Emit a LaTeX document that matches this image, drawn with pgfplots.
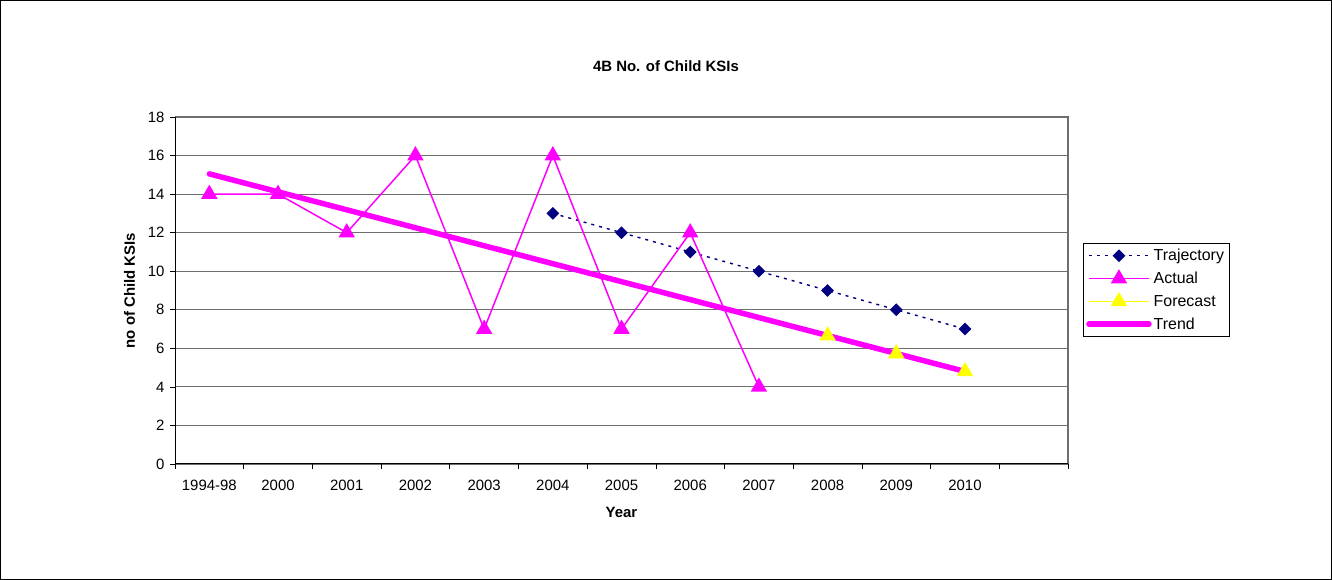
\documentclass[border=0pt]{standalone}
\usepackage{pgfplots}
\pgfplotsset{compat=1.18}
\usepackage{fontspec}
\setmainfont{Liberation Sans}

\definecolor{navy}{RGB}{0,0,128}
\definecolor{magentaline}{RGB}{255,0,255}
\definecolor{forecastyellow}{RGB}{255,255,0}
\definecolor{gridgray}{RGB}{110,110,110}

\begin{document}
\begin{tikzpicture}[x=1bp,y=1bp]
\useasboundingbox (0,0) rectangle (1332,580);
\fill[white] (0,0) rectangle (1332,580);
\draw[black, line width=1bp] (0.5,0.5) rectangle (1331.5,579.5);
\begin{axis}[
  at={(175bp,116bp)}, anchor=south west,
  scale only axis, width=893bp, height=347bp,
  xmin=-0.5, xmax=12.5, ymin=0, ymax=18,
  xtick={0,...,11},
  xticklabels={1994-98,2000,2001,2002,2003,2004,2005,2006,2007,2008,2009,2010},
  minor xtick={-0.5,0.5,...,12.5},
  ytick={0,2,...,18},
  tick align=outside,
  major tick length=5bp, minor tick length=5bp,
  x tick style={draw=none},
  minor x tick style={draw=black, line width=0.6bp},
  y tick style={draw=black, line width=0.6bp},
  xtick pos=bottom, ytick pos=left,
  ymajorgrids, grid style={gridgray, line width=0.8bp},
  axis line style={draw=none},
  /pgf/number format/assume math mode=true,
  tick label style={font=\fontsize{15}{17}\selectfont},
  xticklabel style={yshift=-8bp},
  yticklabel style={xshift=-2bp},
  title={\textbf{4B No. of Child KSIs}},
  title style={font=\fontsize{15}{17}\selectfont, at={(0.5498,1)}, yshift=36bp, anchor=south},
  xlabel={\textbf{Year}},
  xlabel style={font=\fontsize{15}{17}\selectfont, yshift=-9bp},
  ylabel={\textbf{no of Child KSIs}},
  ylabel style={font=\fontsize{15}{17}\selectfont, yshift=6bp},
  legend style={at={(1.0168,0.637)}, anchor=north west, draw=black,
    font=\fontsize{16}{18}\selectfont, row sep=6bp, inner xsep=3bp, inner ysep=4bp,
    cells={anchor=west}},
  legend image code/.code={%
    \draw[mark repeat=2,mark phase=2,#1]
      plot coordinates {(0bp,0bp) (30bp,0bp) (60bp,0bp)};},
  legend cell align=left,
  clip=false,
]
% frame: black left and bottom, grey top and right
\draw[gridgray, line width=1.2bp] (axis cs:-0.5,18) -- (axis cs:12.5,18) -- (axis cs:12.5,0);
\draw[black, line width=1bp] (axis cs:-0.5,18) -- (axis cs:-0.5,0) -- (axis cs:12.5,0);

\addplot[navy, dash pattern=on 3bp off 5bp, line width=1.4bp,
  mark=square*, mark size=3.8bp, mark options={solid, fill=navy, rotate=45}]
  coordinates {(5,13) (6,12) (7,11) (8,10) (9,9) (10,8) (11,7)};
\addlegendentry{Trajectory}

\addplot[forecastyellow, line width=1.5bp, mark=triangle*, mark size=8bp,
  mark options={solid, fill=forecastyellow}, forget plot]
  coordinates {(9,6.66) (10,5.73) (11,4.80)};

\addplot[magentaline, line width=1.5bp, mark=triangle*, mark size=8bp,
  mark options={solid, fill=magentaline}]
  coordinates {(0,14) (1,14) (2,12) (3,16) (4,7) (5,16) (6,7) (7,12) (8,4)};
\addlegendentry{Actual}

\addlegendimage{forecastyellow, line width=1.5bp, mark=triangle*, mark size=8bp, mark options={fill=forecastyellow}}
\addlegendentry{Forecast}

\addplot[magentaline, line width=5.5bp, line cap=round]
  coordinates {(0,15.05) (11,4.80)};
\addlegendentry{Trend}
\end{axis}
\end{tikzpicture}
\end{document}
